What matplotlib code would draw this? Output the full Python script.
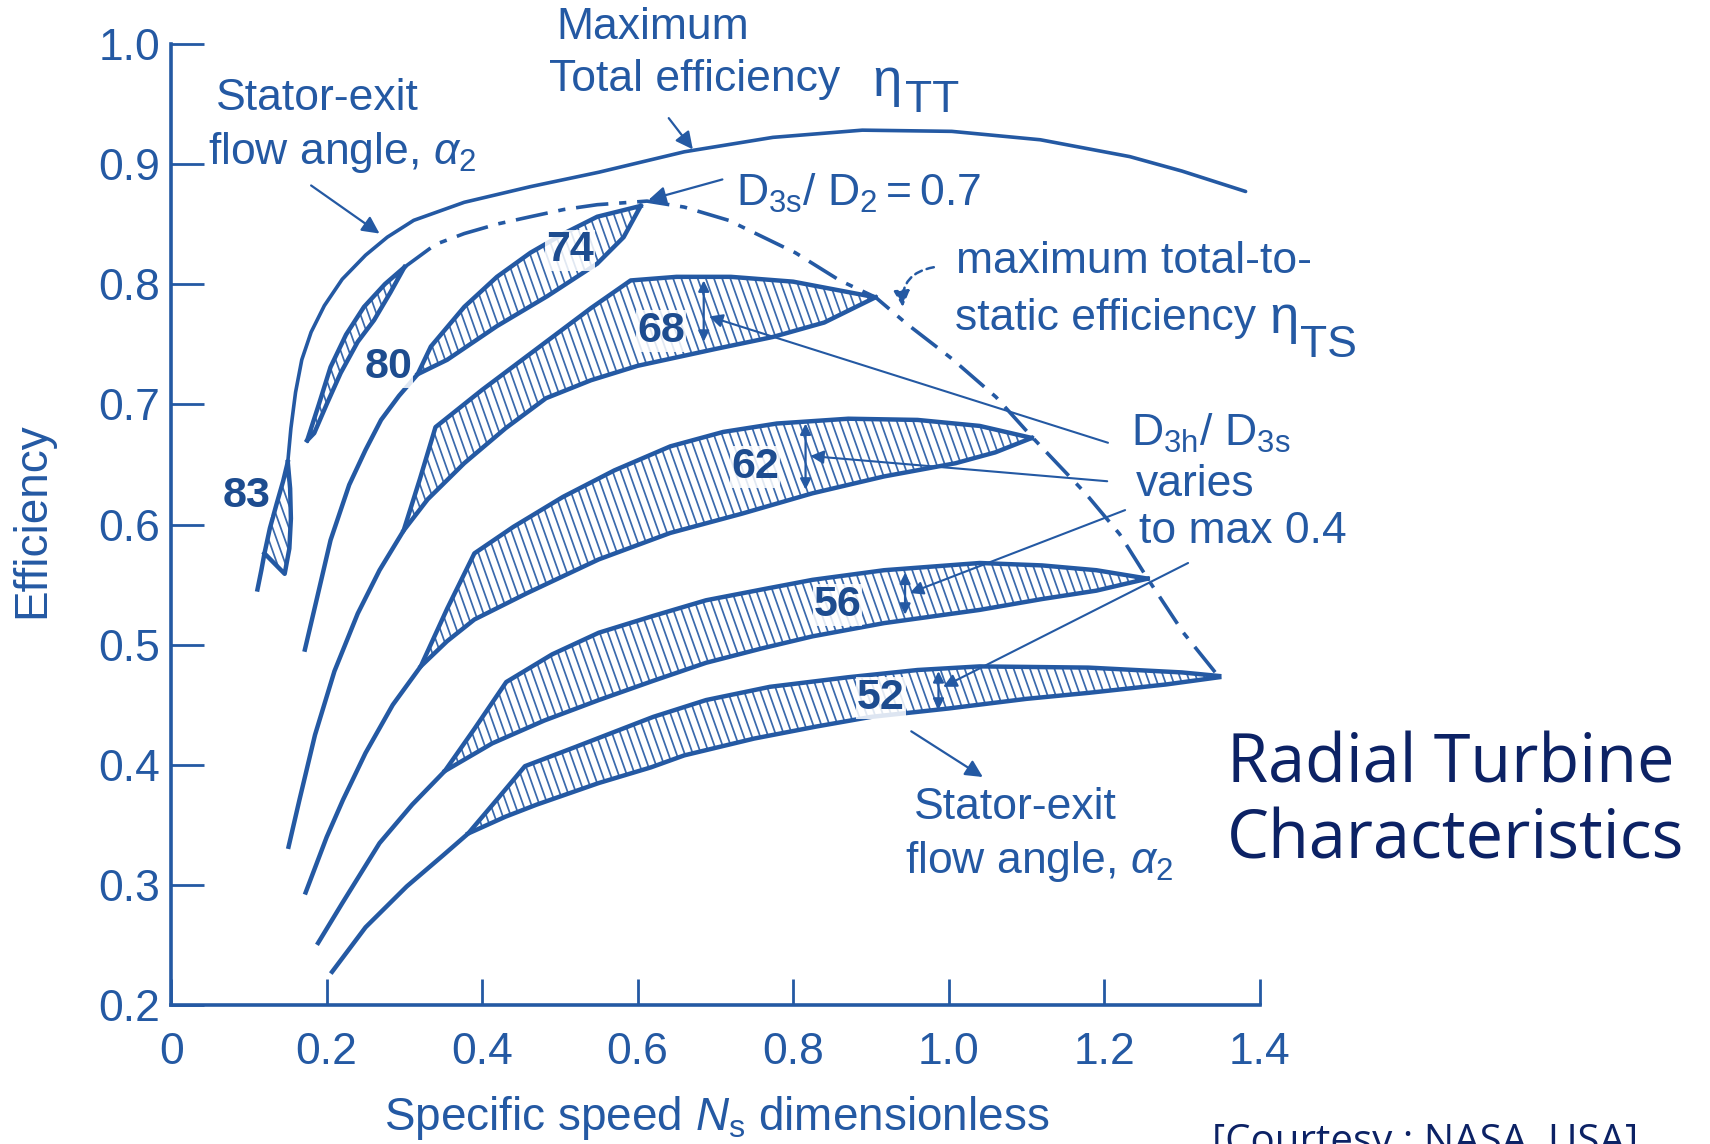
import numpy as np
import matplotlib
matplotlib.use("Agg")
import matplotlib.pyplot as plt
from matplotlib.patches import Polygon
from matplotlib.collections import LineCollection

BLUE = "#2459a3"
NAVY = "#0c2265"

# ---- axes ----
X_TICKS = [0, 0.2, 0.4, 0.6, 0.8, 1.0, 1.2, 1.4]
X_TICK_LABELS = ["0", "0.2", "0.4", "0.6", "0.8", "1.0", "1.2", "1.4"]
Y_TICKS = [0.2, 0.3, 0.4, 0.5, 0.6, 0.7, 0.8, 0.9, 1.0]
Y_TICK_LABELS = ["0.2", "0.3", "0.4", "0.5", "0.6", "0.7", "0.8", "0.9", "1.0"]

# ---- maximum total-to-total efficiency (solid envelope) ----
ETA_TT_X = [0.150, 0.154, 0.160, 0.168, 0.180, 0.197, 0.220, 0.250, 0.278, 0.312,
            0.377, 0.462, 0.550, 0.660, 0.774, 0.889, 1.004, 1.118, 1.233, 1.300, 1.382]
ETA_TT_Y = [0.652, 0.680, 0.710, 0.737, 0.760, 0.782, 0.804, 0.824, 0.839, 0.853,
            0.868, 0.881, 0.893, 0.910, 0.922, 0.928, 0.927, 0.920, 0.906, 0.894, 0.877]

# ---- maximum total-to-static efficiency, D3s/D2 = 0.7 (dashed envelope) ----
ETA_TS_X = [0.300, 0.340, 0.377, 0.420, 0.462, 0.505, 0.548, 0.612, 0.660, 0.717, 0.803,
            0.860, 0.906, 0.946, 1.004, 1.061, 1.107, 1.176, 1.220, 1.256, 1.302, 1.348]
ETA_TS_Y = [0.814, 0.833, 0.842, 0.850, 0.856, 0.862, 0.866, 0.869, 0.864, 0.853, 0.826,
            0.803, 0.789, 0.767, 0.738, 0.706, 0.673, 0.626, 0.592, 0.555, 0.510, 0.473]

# ---- stator-exit flow angle bands (tail line, upper edge, lower edge) ----
TAIL_83 = [(0.111, 0.546), (0.116, 0.562), (0.120, 0.576)]
BAND_83_UPPER = [(0.120, 0.576), (0.127, 0.597), (0.136, 0.618), (0.144, 0.636), (0.150, 0.652)]
BAND_83_LOWER = [(0.120, 0.576), (0.146, 0.559), (0.152, 0.580), (0.154, 0.605),
                 (0.153, 0.630), (0.150, 0.652)]

TAIL_80 = [(0.175, 0.670)]
BAND_80_UPPER = [(0.175, 0.670), (0.190, 0.700), (0.205, 0.731), (0.225, 0.758),
                 (0.248, 0.781), (0.275, 0.800), (0.300, 0.814)]
BAND_80_LOWER = [(0.175, 0.670), (0.184, 0.676), (0.200, 0.700), (0.218, 0.726),
                 (0.240, 0.752), (0.261, 0.770), (0.282, 0.793), (0.300, 0.814)]

TAIL_74 = [(0.172, 0.496), (0.188, 0.540), (0.205, 0.587), (0.229, 0.633), (0.250, 0.662),
           (0.270, 0.687), (0.293, 0.707), (0.317, 0.725)]
BAND_74_UPPER = [(0.317, 0.725), (0.334, 0.748), (0.377, 0.781), (0.419, 0.806),
                 (0.462, 0.826), (0.505, 0.842), (0.548, 0.856), (0.604, 0.865)]
BAND_74_LOWER = [(0.317, 0.725), (0.355, 0.737), (0.419, 0.765), (0.484, 0.790),
                 (0.548, 0.817), (0.582, 0.839), (0.604, 0.865)]

TAIL_68 = [(0.151, 0.332), (0.165, 0.371), (0.185, 0.425), (0.210, 0.478),
           (0.240, 0.526), (0.268, 0.562), (0.299, 0.595)]
BAND_68_UPPER = [(0.299, 0.595), (0.320, 0.638), (0.340, 0.681), (0.400, 0.712),
                 (0.470, 0.746), (0.540, 0.780), (0.591, 0.803), (0.650, 0.806),
                 (0.720, 0.806), (0.800, 0.802), (0.906, 0.789)]
BAND_68_LOWER = [(0.299, 0.595), (0.330, 0.621), (0.377, 0.651), (0.430, 0.680),
                 (0.482, 0.705), (0.540, 0.720), (0.600, 0.732), (0.700, 0.746),
                 (0.774, 0.756), (0.840, 0.768), (0.906, 0.789)]

TAIL_62 = [(0.173, 0.294), (0.200, 0.340), (0.221, 0.371), (0.250, 0.410),
           (0.285, 0.450), (0.321, 0.482)]
BAND_62_UPPER = [(0.321, 0.482), (0.355, 0.530), (0.390, 0.576), (0.440, 0.598),
                 (0.504, 0.623), (0.570, 0.645), (0.642, 0.665), (0.710, 0.677),
                 (0.779, 0.684), (0.871, 0.688), (0.960, 0.687), (1.040, 0.682), (1.107, 0.672)]
BAND_62_LOWER = [(0.321, 0.482), (0.355, 0.503), (0.390, 0.521), (0.458, 0.543),
                 (0.550, 0.571), (0.642, 0.593), (0.734, 0.609), (0.825, 0.626),
                 (0.917, 0.640), (1.009, 0.651), (1.060, 0.660), (1.107, 0.672)]

TAIL_56 = [(0.189, 0.252), (0.220, 0.285), (0.268, 0.335), (0.310, 0.367), (0.352, 0.395)]
BAND_56_UPPER = [(0.352, 0.395), (0.390, 0.430), (0.431, 0.469), (0.490, 0.492),
                 (0.550, 0.510), (0.620, 0.524), (0.688, 0.537), (0.760, 0.546),
                 (0.825, 0.554), (0.917, 0.562), (1.040, 0.568), (1.120, 0.566),
                 (1.190, 0.562), (1.256, 0.555)]
BAND_56_LOWER = [(0.352, 0.395), (0.413, 0.418), (0.480, 0.437), (0.550, 0.454),
                 (0.620, 0.470), (0.688, 0.485), (0.760, 0.497), (0.825, 0.507),
                 (0.917, 0.518), (1.040, 0.529), (1.120, 0.538), (1.190, 0.545), (1.256, 0.555)]

TAIL_52 = [(0.207, 0.228), (0.250, 0.265), (0.303, 0.299), (0.350, 0.325), (0.382, 0.343)]
BAND_52_UPPER = [(0.382, 0.343), (0.420, 0.372), (0.455, 0.399), (0.520, 0.415),
                 (0.568, 0.427), (0.620, 0.440), (0.688, 0.454), (0.770, 0.465),
                 (0.871, 0.473), (0.960, 0.479), (1.040, 0.482), (1.180, 0.481),
                 (1.300, 0.477), (1.348, 0.474)]
BAND_52_LOWER = [(0.382, 0.343), (0.430, 0.357), (0.470, 0.367), (0.550, 0.385),
                 (0.617, 0.398), (0.660, 0.408), (0.750, 0.422), (0.830, 0.432),
                 (0.900, 0.440), (1.000, 0.447), (1.100, 0.455), (1.180, 0.460),
                 (1.280, 0.467), (1.348, 0.473)]

ALPHA2 = ["83", "80", "74", "68", "62", "56", "52"]


def xs(pts):
    return [p[0] for p in pts]


def ys(pts):
    return [p[1] for p in pts]


def hatch_band(ax, poly, step=0.0105, slope=0.55):
    """Steep '\\' hatching clipped to the band outline (like the scanned chart)."""
    patch = Polygon(poly, closed=True, facecolor="none", edgecolor="none")
    ax.add_patch(patch)
    y0, y1 = min(ys(poly)), max(ys(poly))
    span = slope * (y1 - y0)
    segs = [[(c, y0), (c - span, y1)]
            for c in np.arange(min(xs(poly)), max(xs(poly)) + span, step)]
    lc = LineCollection(segs, colors=BLUE, linewidths=1.25, alpha=0.9)
    ax.add_collection(lc)
    lc.set_clip_path(patch)


plt.rcParams["font.family"] = ["Liberation Sans", "DejaVu Sans"]
plt.rcParams["mathtext.fontset"] = "custom"
plt.rcParams["mathtext.rm"] = "Liberation Sans"
plt.rcParams["mathtext.it"] = "Liberation Sans:italic"
plt.rcParams["mathtext.bf"] = "Liberation Sans:bold"

fig = plt.figure(figsize=(17.10, 11.44), dpi=100)
ax = fig.add_axes([0.1001, 0.1211, 0.6365, 0.8408])
ax.set_xlim(0, 1.4)
ax.set_ylim(0.2, 1.0)

for side in ("top", "right"):
    ax.spines[side].set_visible(False)
for side in ("left", "bottom"):
    ax.spines[side].set_color(BLUE)
    ax.spines[side].set_linewidth(2.6)

ax.set_xticks(X_TICKS)
ax.set_xticklabels(X_TICK_LABELS)
ax.set_yticks(Y_TICKS)
ax.set_yticklabels(Y_TICK_LABELS)
ax.tick_params(axis="x", direction="in", length=19, width=2, color=BLUE,
               labelcolor=BLUE, labelsize=32, pad=19)
ax.tick_params(axis="y", direction="in", length=24, width=2, color=BLUE,
               labelcolor=BLUE, labelsize=32, pad=8)

LW = 2.6

# envelopes
ax.plot(ETA_TT_X, ETA_TT_Y, color=BLUE, lw=LW, solid_capstyle="round")
ax.plot(ETA_TS_X, ETA_TS_Y, color=BLUE, lw=LW, linestyle=(0, (9, 3, 2, 3)))

# hatched bands
bands = [
    (TAIL_83, BAND_83_UPPER, BAND_83_LOWER),
    (TAIL_80, BAND_80_UPPER, BAND_80_LOWER),
    (TAIL_74, BAND_74_UPPER, BAND_74_LOWER),
    (TAIL_68, BAND_68_UPPER, BAND_68_LOWER),
    (TAIL_62, BAND_62_UPPER, BAND_62_LOWER),
    (TAIL_56, BAND_56_UPPER, BAND_56_LOWER),
    (TAIL_52, BAND_52_UPPER, BAND_52_LOWER),
]
for tail, upper, lower in bands:
    hatch_band(ax, upper + lower[::-1])
    edge = tail + upper[1:]
    ax.plot(xs(edge), ys(edge), color=BLUE, lw=LW + 0.6, solid_joinstyle="round")
    ax.plot(xs(lower), ys(lower), color=BLUE, lw=LW + 0.6, solid_joinstyle="round")

# angle labels
label_xy = [(0.097, 0.624), (0.279, 0.731), (0.513, 0.828), (0.630, 0.761),
            (0.751, 0.648), (0.857, 0.533), (0.913, 0.456)]
for txt, (lx, ly) in zip(ALPHA2, label_xy):
    ax.text(lx, ly, txt, fontsize=31, color="#1d4c8f", ha="center", va="center",
            fontweight="bold",
            bbox=dict(boxstyle="square,pad=0.02", fc="white", ec="none", alpha=0.85))

arrow_kw = dict(arrowstyle="-|>", color=BLUE, lw=1.6, mutation_scale=26,
                shrinkA=0, shrinkB=0)
dbl_kw = dict(arrowstyle="<|-|>", color=BLUE, lw=1.6, mutation_scale=16,
              shrinkA=0, shrinkB=0)

# pointers
ax.annotate("", xy=(0.268, 0.842), xytext=(0.180, 0.882), arrowprops=arrow_kw)
ax.annotate("", xy=(0.671, 0.912), xytext=(0.640, 0.938), arrowprops=arrow_kw)
ax.annotate("", xy=(0.614, 0.870), xytext=(0.709, 0.887), arrowprops=arrow_kw)
ax.annotate("", xy=(1.044, 0.390), xytext=(0.952, 0.428), arrowprops=arrow_kw)
ax.annotate("", xy=(0.941, 0.781), xytext=(0.981, 0.814),
            arrowprops=dict(arrowstyle="-|>", color=BLUE, lw=1.8, mutation_scale=24,
                            linestyle=(0, (3, 2)), connectionstyle="arc3,rad=0.45",
                            shrinkA=0, shrinkB=0))

# D3h/D3s markers inside the bands and leader lines
for x0, y_hi, y_lo in [(0.685, 0.803, 0.752), (0.816, 0.684, 0.629),
                       (0.944, 0.560, 0.525), (0.987, 0.478, 0.446)]:
    ax.annotate("", xy=(x0, y_hi), xytext=(x0, y_lo), arrowprops=dbl_kw)
for start, end in [((1.205, 0.668), (0.692, 0.773)), ((1.204, 0.636), (0.822, 0.657)),
                   ((1.227, 0.612), (0.950, 0.543)), ((1.308, 0.568), (0.993, 0.465))]:
    ax.annotate("", xy=end, xytext=start,
                arrowprops=dict(arrowstyle="-|>", color=BLUE, lw=1.5,
                                mutation_scale=20, shrinkA=0, shrinkB=0))

# texts
TXT = dict(color=BLUE, fontsize=32, va="center", ha="left")
ax.text(0.0574, 0.9546, "Stator-exit", **TXT)
ax.text(0.0476, 0.9093, r"flow angle, $\alpha_2$", **TXT)
ax.text(0.4958, 1.0136, "Maximum", **TXT)
ax.text(0.486, 0.970, "Total efficiency", **TXT)
ax.text(0.902, 0.968, "η", color=BLUE, fontsize=38, va="center", ha="left")
ax.text(0.944, 0.953, "TT", **TXT)
ax.text(0.727, 0.875, r"$\mathrm{D_{3s}/\ D_2 = 0.7}$", **TXT)
ax.text(1.0098, 0.8186, "maximum total-to-", **TXT)
ax.text(1.008, 0.771, "static efficiency", **TXT)
ax.text(1.413, 0.771, "η", color=BLUE, fontsize=38, va="center", ha="left")
ax.text(1.452, 0.749, "TS", **TXT)
ax.text(1.234, 0.676, r"$\mathrm{D_{3h}/\ D_{3s}}$", **TXT)
ax.text(1.241, 0.633, "varies", **TXT)
ax.text(1.245, 0.594, "to max 0.4", **TXT)
ax.text(0.955, 0.365, "Stator-exit", **TXT)
ax.text(0.944, 0.320, r"flow angle, $\alpha_2$", **TXT)

fig.text(0.019, 0.545, "Efficiency", rotation=90, color=BLUE, fontsize=33,
         ha="center", va="center")
fig.text(0.419, 0.023, r"Specific speed $N_{\mathrm{s}}$ dimensionless", color=BLUE,
         fontsize=33, ha="center", va="center")

fig.text(0.7175, 0.298, "Radial Turbine\nCharacteristics", color=NAVY, fontsize=48,
         family=["Open Sans", "DejaVu Sans"], ha="left", va="center", linespacing=1.17)
fig.text(0.709, 0.0185, "[Courtesy : NASA, USA]", color=NAVY, fontsize=29,
         family=["Open Sans", "DejaVu Sans"], ha="left", va="top")

fig.savefig("out.png", dpi=100)
